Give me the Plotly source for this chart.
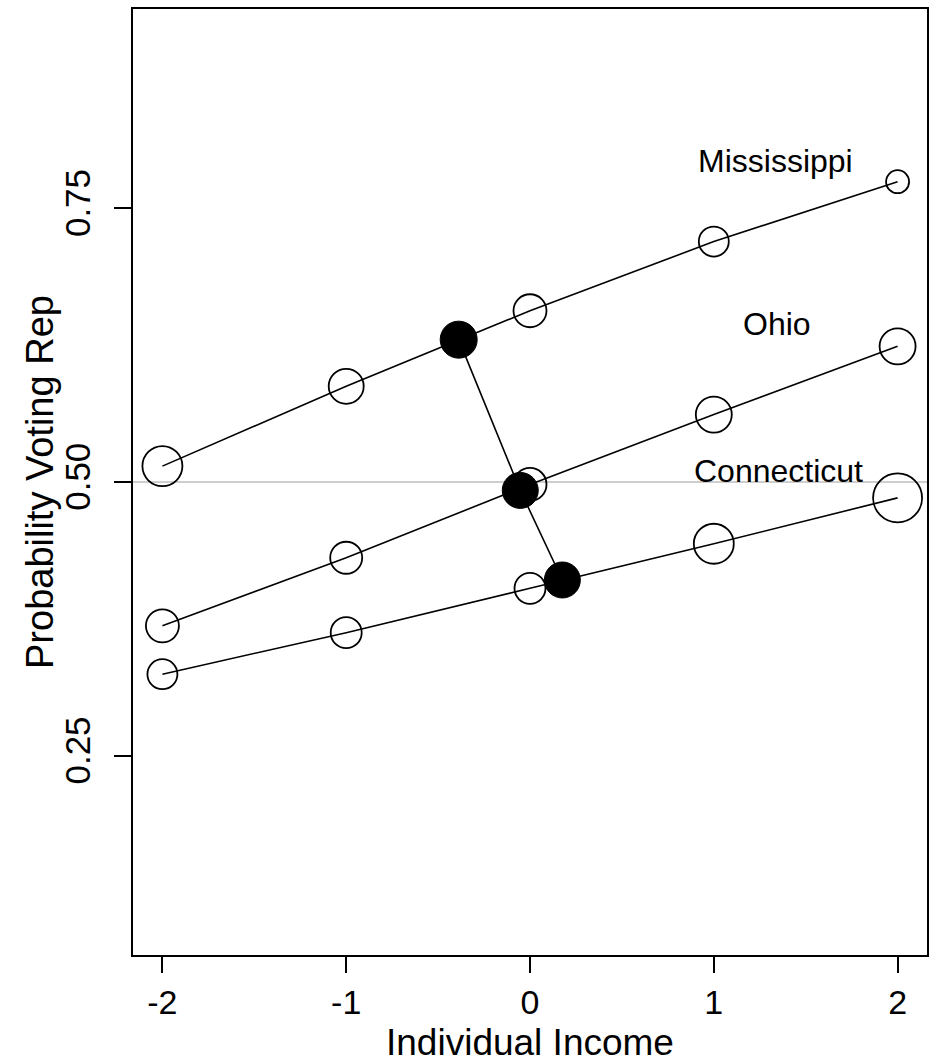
import plotly.graph_objects as go

income = [-2, -1, 0, 1, 2]
mississippi = [0.5145, 0.5874, 0.6564, 0.7196, 0.7743]
ohio = [0.3686, 0.4308, 0.4978, 0.5616, 0.6239]
connecticut = [0.3245, 0.3624, 0.4029, 0.4436, 0.4855]

miss_sizes = [40, 35, 33, 30, 23]
ohio_sizes = [33, 32, 33, 36, 36]
conn_sizes = [30, 31, 31, 40, 49]

avg_x = [-0.388, -0.053, 0.176]
avg_y = [0.630, 0.4923, 0.4105]
avg_sizes = [37, 36, 36]

state_names = ["Mississippi", "Ohio", "Connecticut"]
label_x = [1.335, 1.342, 1.353]
label_y = [0.7932, 0.644, 0.5105]

x_ticks = [-2, -1, 0, 1, 2]
x_ticktext = ["-2", "-1", "0", "1", "2"]
y_ticks = [0.25, 0.50, 0.75]
y_ticktext = ["0.25", "0.50", "0.75"]

FONT = "Liberation Sans, Arial, Helvetica, sans-serif"

fig = go.Figure()

# reference line at 0.5
fig.add_trace(go.Scatter(x=[-2.16, 2.16], y=[0.5, 0.5], mode="lines",
                         line=dict(color="#bebebe", width=1.5),
                         hoverinfo="skip", showlegend=False))

# connecting line between averages
fig.add_trace(go.Scatter(x=avg_x, y=avg_y, mode="lines",
                         line=dict(color="#000000", width=1.6),
                         showlegend=False))

for ys, sz in [(mississippi, miss_sizes), (ohio, ohio_sizes), (connecticut, conn_sizes)]:
    fig.add_trace(go.Scatter(
        x=income, y=ys, mode="lines+markers",
        line=dict(color="#000000", width=1.6),
        marker=dict(symbol="circle-open", size=sz, color="#000000", opacity=1,
                    line=dict(width=1.8, color="#000000")),
        showlegend=False))

fig.add_trace(go.Scatter(
    x=avg_x, y=avg_y, mode="markers", opacity=1,
    marker=dict(symbol="circle", size=avg_sizes, color="#000000", opacity=1,
                line=dict(width=1, color="#000000")),
    showlegend=False))

for name, lx, ly in zip(state_names, label_x, label_y):
    fig.add_annotation(x=lx, y=ly, text=name, showarrow=False,
                       font=dict(family=FONT, size=32, color="black"),
                       xanchor="center", yanchor="middle")

# axis titles
fig.add_annotation(xref="paper", yref="paper", x=0.5, y=0, yshift=-87,
                   text="Individual Income", showarrow=False,
                   xanchor="center", yanchor="middle",
                   font=dict(family=FONT, size=37, color="black"))
fig.add_annotation(xref="paper", yref="paper", x=0, y=0.5, xshift=-93,
                   text="Probability Voting Rep", showarrow=False, textangle=-90,
                   xanchor="center", yanchor="middle",
                   font=dict(family=FONT, size=38, color="black"))

fig.update_layout(
    width=936, height=1063,
    margin=dict(l=133, r=7, t=7, b=108),
    plot_bgcolor="white", paper_bgcolor="white",
    font=dict(family=FONT, color="black"),
    xaxis=dict(range=[-2.16, 2.16], tickvals=x_ticks, ticktext=x_ticktext,
               ticks="outside", ticklen=16, tickwidth=1.5, tickcolor="black",
               showline=True, linecolor="black", linewidth=1.5, mirror=True,
               showgrid=False, zeroline=False,
               tickfont=dict(family=FONT, size=34, color="black")),
    yaxis=dict(range=[0.068, 0.932], tickvals=y_ticks, ticktext=y_ticktext,
               ticks="outside", ticklen=17, tickwidth=1.5, tickcolor="black",
               showline=True, linecolor="black", linewidth=1.5, mirror=True,
               showgrid=False, zeroline=False, tickangle=-90,
               ticklabelstandoff=10,
               tickfont=dict(family=FONT, size=35, color="black")),
)

fig.write_html("out.html")
